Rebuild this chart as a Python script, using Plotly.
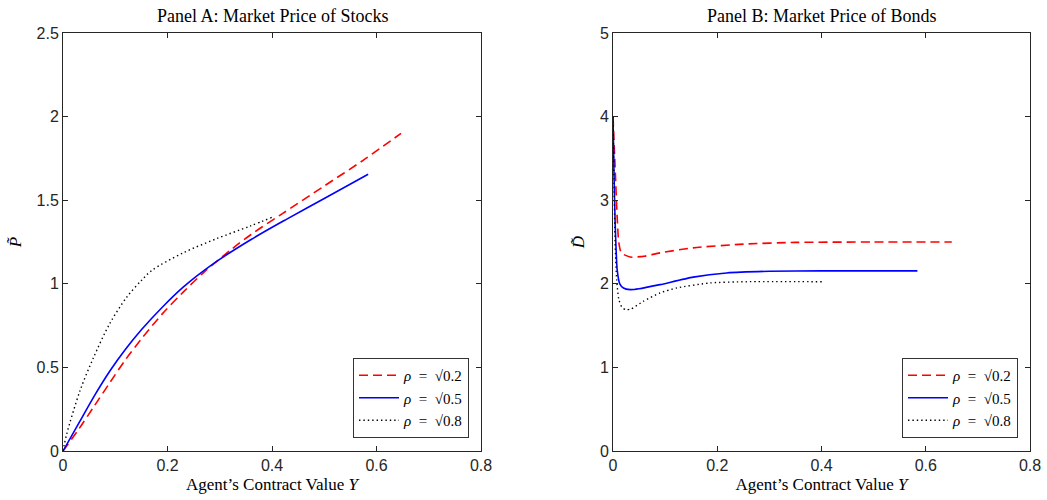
import plotly.graph_objects as go

# ---------------- data ----------------
labels = ["<i>ρ</i>\u2002=\u2002√0.2", "<i>ρ</i>\u2002=\u2002√0.5", "<i>ρ</i>\u2002=\u2002√0.8"]

# Panel A: market price of stocks
a_red_x = [0, 0.03, 0.06, 0.09, 0.12, 0.15, 0.19, 0.23, 0.27, 0.32, 0.36, 0.42, 0.50, 0.575, 0.647]
a_red_y = [0, 0.13, 0.27, 0.41, 0.548, 0.67, 0.82, 0.95, 1.07, 1.20, 1.295, 1.42, 1.585, 1.74, 1.90]
a_blue_x = [0, 0.03, 0.06, 0.09, 0.12, 0.15, 0.19, 0.23, 0.29, 0.36, 0.43, 0.50, 0.584]
a_blue_y = [0, 0.165, 0.33, 0.48, 0.61, 0.725, 0.86, 0.98, 1.125, 1.265, 1.39, 1.51, 1.655]
a_blk_x = [0, 0.007, 0.0325, 0.058, 0.09, 0.122, 0.15, 0.17, 0.23, 0.294, 0.358, 0.402]
a_blk_y = [0, 0.10, 0.36, 0.556, 0.765, 0.92, 1.02, 1.08, 1.185, 1.27, 1.345, 1.40]

# Panel B: market price of bonds
b_red_x = [0.0, 0.004, 0.008, 0.011, 0.016, 0.033, 0.06, 0.09, 0.154, 0.25, 0.35, 0.50, 0.65]
b_red_y = [4.0, 3.40, 2.80, 2.50, 2.37, 2.32, 2.33, 2.37, 2.43, 2.475, 2.495, 2.50, 2.50]
b_blue_x = [0.0, 0.002, 0.004, 0.006, 0.008, 0.013, 0.02, 0.033, 0.05, 0.09, 0.154, 0.218, 0.30, 0.40, 0.584]
b_blue_y = [4.0, 3.30, 2.75, 2.40, 2.17, 2.00, 1.95, 1.93, 1.94, 1.99, 2.08, 2.13, 2.15, 2.155, 2.155]
b_blk_x = [0.0, 0.002, 0.004, 0.007, 0.011, 0.017, 0.025, 0.035, 0.058, 0.09, 0.122, 0.186, 0.256, 0.402]
b_blk_y = [4.0, 3.20, 2.50, 2.05, 1.82, 1.72, 1.69, 1.70, 1.79, 1.89, 1.95, 2.01, 2.025, 2.025]

x_ticks = [0, 0.2, 0.4, 0.6, 0.8]
a_y_ticks = [0, 0.5, 1, 1.5, 2, 2.5]
b_y_ticks = [0, 1, 2, 3, 4, 5]

# ---------------- styles ----------------
styles = [
    dict(color="#ff0000", width=1.6, dash="9px,5px"),
    dict(color="#0000ff", width=1.6, dash="solid"),
    dict(color="#000000", width=1.4, dash="1.4px,3px"),
]
SERIF = "Liberation Serif, DejaVu Serif, serif"
SANS = "Liberation Sans, Arial, sans-serif"
AXC = "#262626"

fig = go.Figure()
panel_a = [(a_red_x, a_red_y), (a_blue_x, a_blue_y), (a_blk_x, a_blk_y)]
panel_b = [(b_red_x, b_red_y), (b_blue_x, b_blue_y), (b_blk_x, b_blk_y)]
for (x, y), lab, st in zip(panel_a, labels, styles):
    fig.add_trace(go.Scatter(x=x, y=y, mode="lines", name=lab, line=dict(shape="spline", smoothing=0.9, **st),
                             xaxis="x", yaxis="y", legend="legend"))
for (x, y), lab, st in zip(panel_b, labels, styles):
    fig.add_trace(go.Scatter(x=x, y=y, mode="lines", name=lab, line=dict(shape="spline", smoothing=0.6, **st),
                             xaxis="x2", yaxis="y2", legend="legend2"))

W, H = 1047, 500
def px(xp):
    return xp / W
def py(yp):
    return (H - yp) / H

dA = [px(63), px(481)]
dB = [px(613), px(1030)]
dy = [py(451), py(33)]

def xax(domain, anchor):
    return dict(domain=domain, anchor=anchor, range=[0, 0.8], tickvals=x_ticks,
                ticktext=["0", "0.2", "0.4", "0.6", "0.8"], automargin=False,
                showline=True, mirror="ticks", linecolor=AXC, linewidth=1, ticks="inside", ticklen=5,
                tickcolor=AXC, showgrid=False, zeroline=False,
                tickfont=dict(family=SANS, size=16, color=AXC),
                title=dict(text="Agent’s Contract Value <i>Y</i>", font=dict(family=SERIF, size=17, color="#000"), standoff=4))

def yax(domain, anchor, rng, ticks, title):
    return dict(domain=domain, anchor=anchor, range=rng, tickvals=ticks,
                ticktext=[("%g" % t) for t in ticks], automargin=False,
                showline=True, mirror="ticks", linecolor=AXC, linewidth=1, ticks="inside", ticklen=5,
                tickcolor=AXC, showgrid=False, zeroline=False,
                tickfont=dict(family=SANS, size=16, color=AXC),
                title=dict(text=title, font=dict(family=SERIF, size=17, color="#000"), standoff=10))

def leg(xr):
    return dict(x=xr, xanchor="right", y=py(438), yanchor="bottom",
                bgcolor="white", bordercolor="#333", borderwidth=1,
                font=dict(family=SERIF, size=15, color="#000"),
                tracegroupgap=0, itemwidth=40)

fig.update_layout(
    width=W, height=H, margin=dict(l=0, r=0, t=0, b=0),
    paper_bgcolor="white", plot_bgcolor="white",
    xaxis=xax(dA, "y"), yaxis=yax(dy, "x", [0, 2.5], a_y_ticks, "<i>P̃</i>"),
    xaxis2=xax(dB, "y2"), yaxis2=yax(dy, "x2", [0, 5], b_y_ticks, "<i>D̃</i>"),
    legend=leg(px(469)), legend2=leg(px(1018)),
    annotations=[
        dict(text="Panel A: Market Price of Stocks", x=(dA[0] + dA[1]) / 2, y=py(16),
             xref="paper", yref="paper", showarrow=False, xanchor="center", yanchor="middle",
             font=dict(family=SERIF, size=18, color="#000")),
        dict(text="Panel B: Market Price of Bonds", x=(dB[0] + dB[1]) / 2, y=py(16),
             xref="paper", yref="paper", showarrow=False, xanchor="center", yanchor="middle",
             font=dict(family=SERIF, size=18, color="#000")),
    ],
)

# remove the browser's default 8px body margin so the figure fills the window exactly
fig.write_html("out.html", config={"displayModeBar": False},
               post_script="document.body.style.margin='0';document.body.style.overflow='hidden';")
